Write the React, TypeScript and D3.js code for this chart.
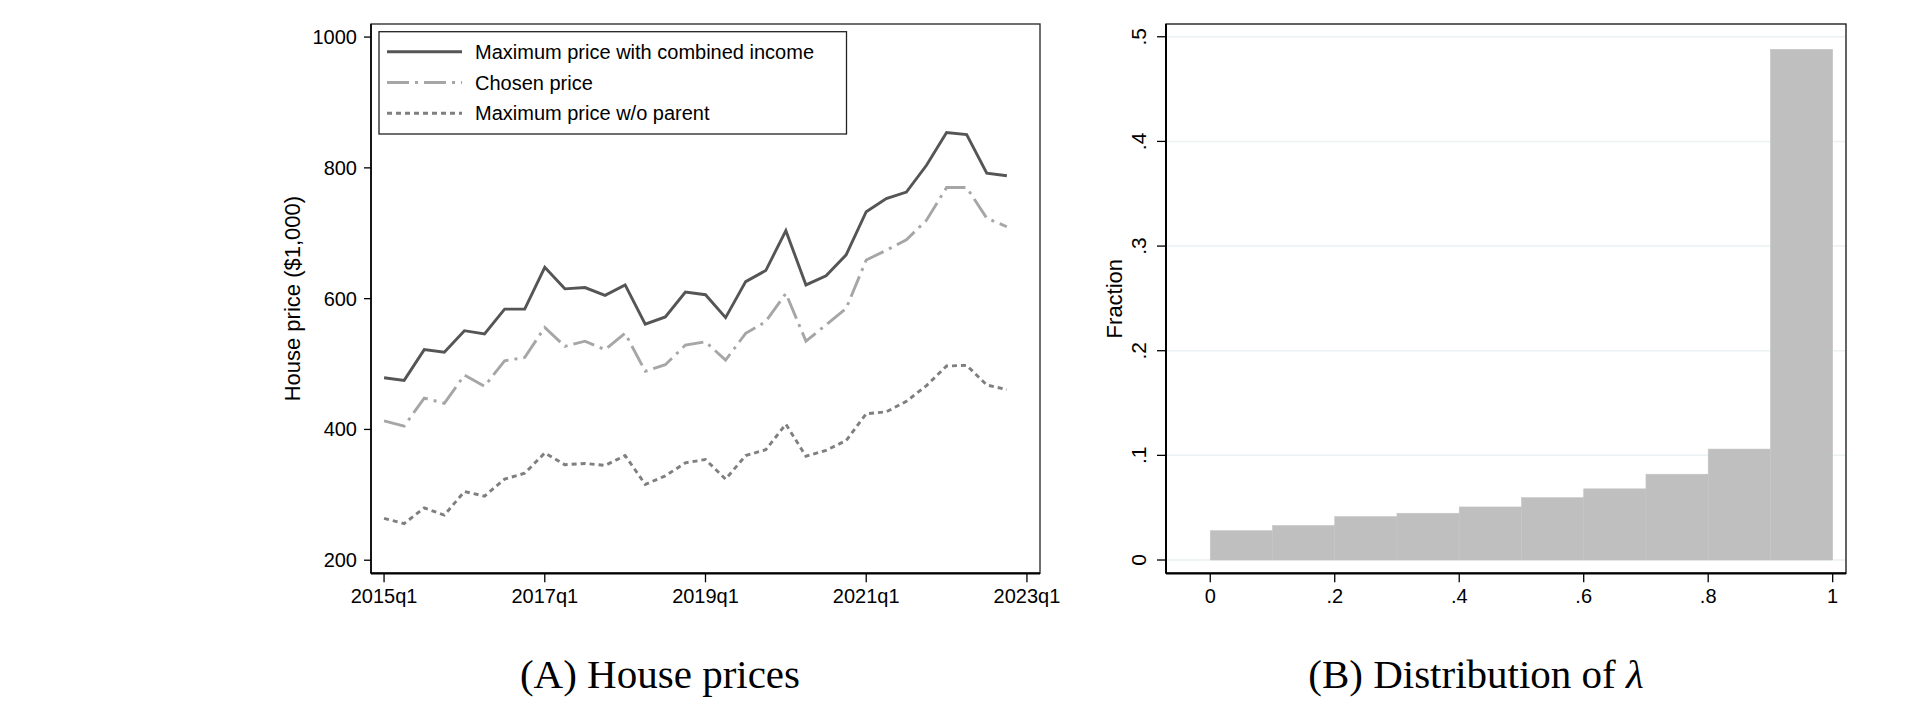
import React, { useEffect, useRef } from 'react'
import * as d3 from 'd3'

// ---- panel A: quarterly house prices ($1,000) ----
const quarters = d3.range(32).map(i => `${2015 + Math.floor(i / 4)}q${(i % 4) + 1}`)
const xTickLabels = ['2015q1', '2017q1', '2019q1', '2021q1', '2023q1']
const yTicksA = [200, 400, 600, 800, 1000]

const maxCombined = [
  479, 475, 522, 518, 551, 546, 584, 584, 648, 615, 617, 605, 621, 561, 572, 610,
  606, 571, 626, 643, 704, 621, 635, 667, 733, 753, 763, 804, 854, 851, 792, 788,
]
const chosenPrice = [
  413, 405, 448, 440, 483, 466, 505, 510, 556, 527, 535, 522, 547, 489, 499, 529,
  534, 506, 547, 565, 608, 535, 560, 585, 659, 674, 690, 720, 770, 770, 723, 710,
]
const maxNoParent = [
  264, 256, 280, 269, 305, 298, 324, 333, 364, 346, 348, 345, 360, 316, 329, 349,
  354, 324, 360, 369, 408, 359, 368, 383, 424, 427, 443, 467, 497, 498, 468, 461,
]

const seriesNames = ['Maximum price with combined income', 'Chosen price', 'Maximum price w/o parent']

// ---- panel B: histogram of lambda ----
const binStarts = [0, 0.1, 0.2, 0.3, 0.4, 0.5, 0.6, 0.7, 0.8, 0.9]
const binFractions = [0.028, 0.033, 0.0415, 0.0447, 0.0507, 0.0596, 0.068, 0.082, 0.106, 0.488]
const xTicksB = [0, 0.2, 0.4, 0.6, 0.8, 1]
const yTicksB = [0, 0.1, 0.2, 0.3, 0.4, 0.5]

const SANS = '"Liberation Sans", Arial, sans-serif'
const SERIF = '"Liberation Serif", "Times New Roman", serif'

const fmtB = (v: number) => (v === 0 ? '0' : v === 1 ? '1' : d3.format('.1f')(v).replace(/^0/, ''))

export default function App() {
  const ref = useRef<SVGSVGElement>(null)

  useEffect(() => {
    const svg = d3.select(ref.current)
    svg.selectAll('*').remove()

    // ================= panel A =================
    const a = { left: 371, right: 1040, top: 24, bottom: 573.3 }
    const xA = d3.scaleLinear().domain([-0.65, 32.65]).range([a.left, a.right])
    const yA = d3.scaleLinear().domain([180, 1020]).range([a.bottom, a.top])

    const gA = svg.append('g')

    gA.append('rect')
      .attr('x', a.left).attr('y', a.top)
      .attr('width', a.right - a.left).attr('height', a.bottom - a.top)
      .attr('fill', 'white').attr('stroke', '#333').attr('stroke-width', 1.4)

    const line = d3.line<number>()
      .x((_, i) => xA(i))
      .y(d => yA(d))

    const styles = [
      { data: maxCombined, color: '#555555', dash: null, width: 2.9 },
      { data: chosenPrice, color: '#a6a6a6', dash: '22,6,3,6', width: 2.9 },
      { data: maxNoParent, color: '#7f7f7f', dash: '5,4', width: 2.9 },
    ]

    styles.forEach(s => {
      gA.append('path')
        .datum(s.data)
        .attr('d', line)
        .attr('fill', 'none')
        .attr('stroke', s.color)
        .attr('stroke-width', s.width)
        .attr('stroke-dasharray', s.dash)
        .attr('stroke-linejoin', 'miter')
    })

    // axes lines
    gA.append('line')
      .attr('x1', a.left).attr('x2', a.left).attr('y1', a.top).attr('y2', a.bottom)
      .attr('stroke', '#000').attr('stroke-width', 1.6)
    gA.append('line')
      .attr('x1', a.left).attr('x2', a.right).attr('y1', a.bottom).attr('y2', a.bottom)
      .attr('stroke', '#000').attr('stroke-width', 2.2)

    // y ticks
    yTicksA.forEach(t => {
      gA.append('line')
        .attr('x1', a.left - 7).attr('x2', a.left)
        .attr('y1', yA(t)).attr('y2', yA(t))
        .attr('stroke', '#000').attr('stroke-width', 1.3)
      gA.append('text')
        .attr('x', a.left - 14).attr('y', yA(t)).attr('dy', '0.35em')
        .attr('text-anchor', 'end')
        .attr('font-family', SANS).attr('font-size', 20)
        .text(t)
    })

    // x ticks
    xTickLabels.forEach(lbl => {
      const idx = (parseInt(lbl.slice(0, 4)) - 2015) * 4
      gA.append('line')
        .attr('x1', xA(idx)).attr('x2', xA(idx))
        .attr('y1', a.bottom).attr('y2', a.bottom + 9)
        .attr('stroke', '#000').attr('stroke-width', 1.3)
      gA.append('text')
        .attr('x', xA(idx)).attr('y', 603)
        .attr('text-anchor', 'middle')
        .attr('font-family', SANS).attr('font-size', 20)
        .text(lbl)
    })

    gA.append('text')
      .attr('transform', `translate(300, ${(a.top + a.bottom) / 2}) rotate(-90)`)
      .attr('text-anchor', 'middle')
      .attr('font-family', SANS).attr('font-size', 22)
      .text('House price ($1,000)')

    // legend
    const leg = gA.append('g')
    leg.append('rect')
      .attr('x', 379).attr('y', 31.7).attr('width', 467.5).attr('height', 102.3)
      .attr('fill', 'white').attr('stroke', '#222').attr('stroke-width', 1.3)
    const rowY = [51.7, 82.5, 113.3]
    styles.forEach((s, i) => {
      leg.append('line')
        .attr('x1', 387).attr('x2', 462)
        .attr('y1', rowY[i]).attr('y2', rowY[i])
        .attr('stroke', s.color).attr('stroke-width', s.width)
        .attr('stroke-dasharray', s.dash)
      leg.append('text')
        .attr('x', 475).attr('y', rowY[i]).attr('dy', '0.35em')
        .attr('font-family', SANS).attr('font-size', 20)
        .text(seriesNames[i])
    })

    svg.append('text')
      .attr('x', 660).attr('y', 688)
      .attr('text-anchor', 'middle')
      .attr('font-family', SERIF).attr('font-size', 41)
      .text('(A) House prices')

    // ================= panel B =================
    const b = { left: 1166, right: 1846, top: 24, bottom: 573.3 }
    const xB = d3.scaleLinear().domain([-0.0711, 1.0214]).range([b.left, b.right])
    const yB = d3.scaleLinear().domain([-0.0127, 0.5122]).range([b.bottom, b.top])

    const gB = svg.append('g')
    gB.append('rect')
      .attr('x', b.left).attr('y', b.top)
      .attr('width', b.right - b.left).attr('height', b.bottom - b.top)
      .attr('fill', 'white').attr('stroke', '#222').attr('stroke-width', 1.4)

    yTicksB.forEach(t => {
      gB.append('line')
        .attr('x1', b.left + 1).attr('x2', b.right - 1)
        .attr('y1', yB(t)).attr('y2', yB(t))
        .attr('stroke', '#eaf2f3').attr('stroke-width', 1.5)
    })

    gB.selectAll('.bar')
      .data(binStarts)
      .enter()
      .append('rect')
      .attr('class', 'bar')
      .attr('x', d => xB(d))
      .attr('width', d => xB(d + 0.1) - xB(d))
      .attr('y', (_, i) => yB(binFractions[i]))
      .attr('height', (_, i) => yB(0) - yB(binFractions[i]))
      .attr('fill', '#bfbfbf')
      .attr('stroke', '#c5c5c5')
      .attr('stroke-width', 0.6)

    gB.append('line')
      .attr('x1', b.left).attr('x2', b.left).attr('y1', b.top).attr('y2', b.bottom)
      .attr('stroke', '#000').attr('stroke-width', 2)
    gB.append('line')
      .attr('x1', b.left).attr('x2', b.right).attr('y1', b.bottom).attr('y2', b.bottom)
      .attr('stroke', '#000').attr('stroke-width', 2.2)

    yTicksB.forEach(t => {
      gB.append('line')
        .attr('x1', b.left - 9).attr('x2', b.left)
        .attr('y1', yB(t)).attr('y2', yB(t))
        .attr('stroke', '#000').attr('stroke-width', 1.3)
      gB.append('text')
        .attr('transform', `translate(1146, ${yB(t)}) rotate(-90)`)
        .attr('text-anchor', 'middle')
        .attr('font-family', SANS).attr('font-size', 21)
        .text(fmtB(t))
    })

    xTicksB.forEach(t => {
      gB.append('line')
        .attr('x1', xB(t)).attr('x2', xB(t))
        .attr('y1', b.bottom).attr('y2', b.bottom + 9)
        .attr('stroke', '#000').attr('stroke-width', 1.3)
      gB.append('text')
        .attr('x', xB(t)).attr('y', 603)
        .attr('text-anchor', 'middle')
        .attr('font-family', SANS).attr('font-size', 20)
        .text(fmtB(t))
    })

    gB.append('text')
      .attr('transform', `translate(1122, ${(b.top + b.bottom) / 2}) rotate(-90)`)
      .attr('text-anchor', 'middle')
      .attr('font-family', SANS).attr('font-size', 22)
      .text('Fraction')

    const titleB = svg.append('text')
      .attr('x', 1476).attr('y', 688)
      .attr('text-anchor', 'middle')
      .attr('font-family', SERIF).attr('font-size', 41)
    titleB.append('tspan').text('(B) Distribution of ')
    titleB.append('tspan').attr('font-style', 'italic').text('λ')
  }, [])

  return (
    <svg
      ref={ref}
      width={1909}
      height={715}
      style={{ position: 'absolute', left: 0, top: 0, background: 'white' }}
    />
  )
}
